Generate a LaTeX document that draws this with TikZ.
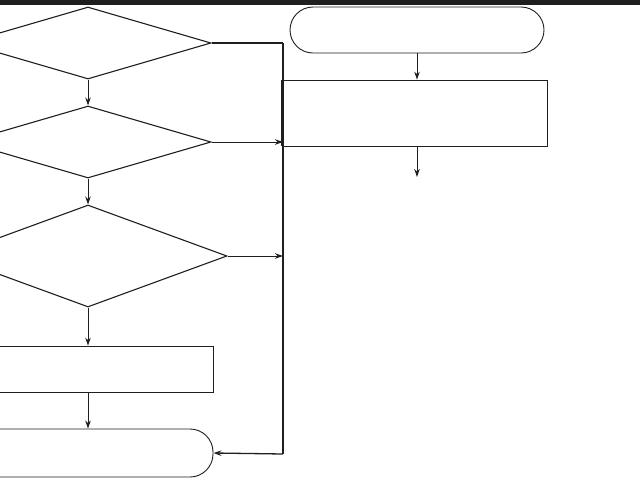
\documentclass[tikz,border=0pt]{standalone}
\usetikzlibrary{shapes.geometric,arrows.meta}
\begin{document}
\begin{tikzpicture}[x=1pt,y=-1pt,line width=1pt,draw=black!88,
  >={Stealth[length=8pt,width=5.5pt]},
  dec/.style={draw,diamond,inner sep=0pt,shape aspect=3,line width=1.1pt},
  proc/.style={draw,rectangle,inner sep=0pt,line width=0.8pt},
  term/.style={draw,rectangle,rounded corners=23pt,inner sep=0pt,line width=0.9pt},
  flow/.style={->,line width=1pt}]
\useasboundingbox (0,0) rectangle (640,480);
\clip (0,0) rectangle (640,480);
\fill[black!88] (0,0) rectangle (640,5);
% left column
\node[dec,minimum width=246pt,minimum height=72pt] (d1) at (88,43) {};
\node[dec,minimum width=246pt,minimum height=72pt] (d2) at (88,142) {};
\node[dec,minimum width=278pt,minimum height=102pt] (d3) at (88,256) {};
\node[proc,minimum width=250pt,minimum height=46pt] (p1) at (88,369) {};
\node[term,minimum width=250pt,minimum height=48pt] (t1) at (88,453) {};
% right column
\node[term,minimum width=254pt,minimum height=46pt] (t2) at (417,30) {};
\node[proc,minimum width=264pt,minimum height=66pt] (p2) at (415,113) {};
\draw[line width=1.8pt] (p2.south east) -- (p2.north east);
\coordinate (j1) at (283,43);
\coordinate (j2) at (283,454);
\coordinate (e2) at (417,177);
% connectors
\draw[flow] (d1.south) -- (d2.north);
\draw[flow] (d2.south) -- (d3.north);
\draw[flow] (d3.south) -- (p1.north);
\draw[flow] (p1.south) -- (t1.north);
\draw[line width=1.2pt] (d1.east) -- (j1);
\draw[line width=2pt] (j1) -- (j2);
\draw[flow,line width=1.3pt] (j2) -- (t1.east);
\draw[flow] (d2.east) -- (d2.east -| j1);
\draw[flow] (d3.east) -- (d3.east -| j1);
\draw[line width=3.5pt] (p2.north west) -- (p2.south west);
\draw[flow] (t2.south -| e2) -- (p2.north -| e2);
\draw[flow] (p2.south -| e2) -- (e2);
\end{tikzpicture}
\end{document}
